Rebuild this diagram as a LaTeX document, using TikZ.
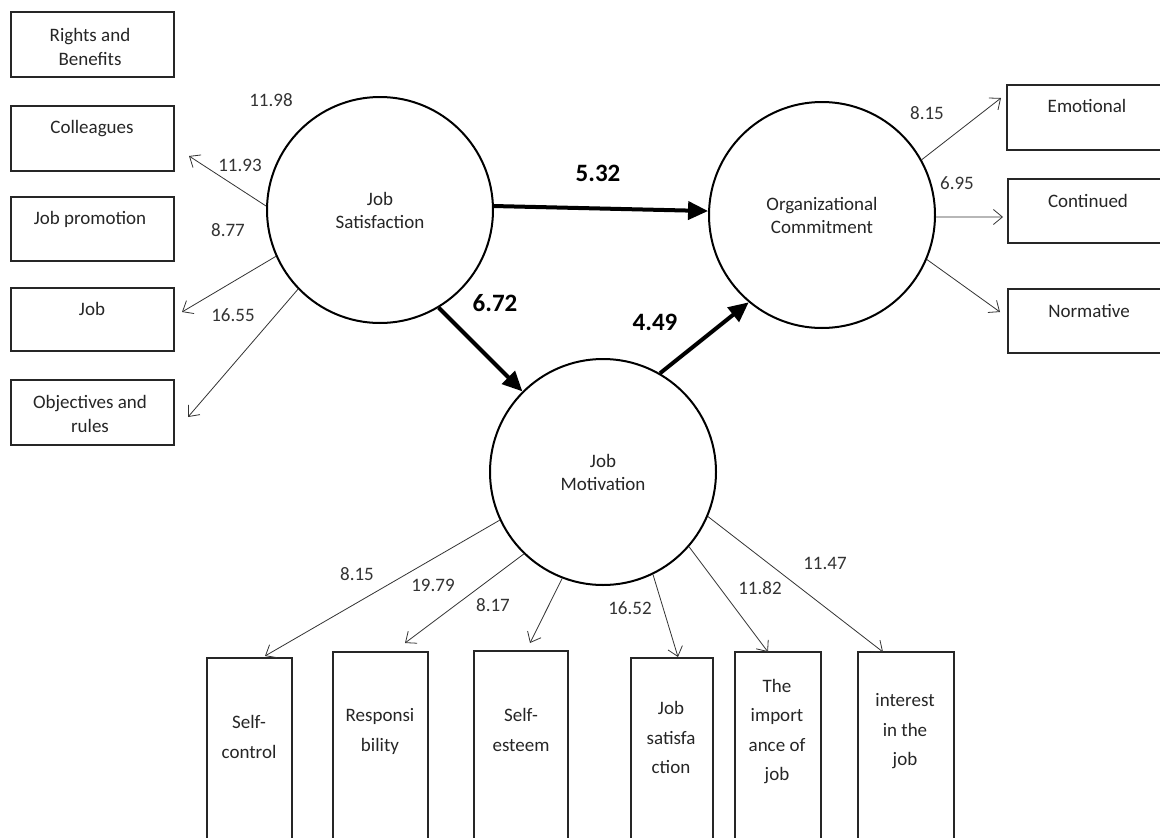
\documentclass[tikz,border=0pt]{standalone}
\usepackage{fontspec}
\setmainfont{Carlito}
\usetikzlibrary{arrows.meta}
\begin{document}
\begin{tikzpicture}[x=1pt,y=-1pt]
\tikzset{
 box/.style={draw=black!85, line width=1.1pt, rectangle, inner sep=0pt, outer sep=0pt},
 lat/.style={draw=black, line width=2pt, circle, minimum size=226pt, inner sep=0pt,
   font=\fontsize{19}{23}\selectfont, text=black!85, align=center},
 txt/.style={font=\fontsize{19}{24}\selectfont, text=black!85, align=center, inner sep=0pt},
 btxt/.style={font=\fontsize{19}{29.5}\selectfont, text=black!85, align=center, inner sep=0pt},
 num/.style={font=\fontsize{19}{24}\selectfont, text=black!80, inner sep=0pt},
 bnum/.style={font=\fontsize{25}{30}\selectfont\bfseries, text=black, inner sep=0pt},
 thinarr/.style={draw=black!80, line width=0.8pt, -{Straight Barb[length=9pt,width=15pt]}},
 boldarr/.style={draw=black, line width=4pt, -{Triangle[length=20pt,width=18pt]}},
}
\useasboundingbox (0,0) rectangle (1160,838);
\fill[white] (0,0) rectangle (1160,838);

% latent variables
\node[lat] (js) at (380,210) {Job\\Satisfaction};
\node[lat] (oc) at (822,215) {Organizational\\Commitment};
\node[lat] (jm) at (603,472) {Job\\Motivation};

% left boxes
\node[box, minimum width=163pt, minimum height=65pt] (rb) at (92.5,44.5) {};
\node[txt] (rbT) at (90,46.5) {Rights and\\Benefits};
\node[box, minimum width=163pt, minimum height=65pt] (col) at (92.5,138.5) {};
\node[txt] (colT) at (92,129) {Colleagues};
\node[box, minimum width=163pt, minimum height=64pt] (jp) at (92.5,229) {};
\node[txt] (jpT) at (90,219) {Job promotion};
\node[box, minimum width=163pt, minimum height=63pt] (job) at (92.5,319.5) {};
\node[txt] (jobT) at (92,309) {Job};
\node[box, minimum width=163pt, minimum height=65pt] (obj) at (92.5,412.5) {};
\node[txt] (objT) at (90,413.5) {Objectives and\\rules};

% right boxes
\node[box, minimum width=161pt, minimum height=65pt] (emo) at (1087.5,117.5) {};
\node[txt] (emoT) at (1087,106) {Emotional};
\node[box, minimum width=161pt, minimum height=64pt] (con) at (1088.5,211) {};
\node[txt] (conT) at (1088,201) {Continued};
\node[box, minimum width=161pt, minimum height=64pt] (nor) at (1088.5,321) {};
\node[txt] (norT) at (1089,311) {Normative};

% bottom boxes
\node[box, minimum width=85pt, minimum height=192pt] (sc) at (249.5,754) {};
\node[btxt] (scT) at (249,737) {Self-\\control};
\node[box, minimum width=95pt, minimum height=198pt] (rs) at (380.5,751) {};
\node[btxt] (rsT) at (380,731.5) {Responsi\\bility};
\node[box, minimum width=94pt, minimum height=199pt] (se) at (521,750.5) {};
\node[btxt] (seT) at (521,730) {Self-\\esteem};
\node[box, minimum width=82pt, minimum height=192pt] (jsat) at (672,754) {};
\node[btxt] (jsatT) at (671,737.5) {Job\\satisfa\\ction};
\node[box, minimum width=86pt, minimum height=198pt] (imp) at (778,751) {};
\node[btxt] (impT) at (777,731.5) {The\\import\\ance of\\job};
\node[box, minimum width=96pt, minimum height=198pt] (int) at (906,751) {};
\node[btxt] (intT) at (905,731.5) {interest\\in the\\job};

% arrow tips
\coordinate (tcol) at (189,156);
\coordinate (tjob) at (182,312);
\coordinate (tobj) at (188,417);
\coordinate (temo) at (1001,98);
\coordinate (tcon) at (1003,217);
\coordinate (tnor) at (1000,312);
\coordinate (tsc) at (265,656);
\coordinate (trs) at (405,643);
\coordinate (tse) at (530,643);
\coordinate (tjsat) at (678,657);
\coordinate (timp) at (768,652);
\coordinate (tint) at (883,652);

% thin arrows
\draw[thinarr] (js.178) -- (tcol);
\draw[thinarr] (js.204) -- (tjob);
\draw[thinarr] (js.224) -- (tobj);
\draw[thinarr] (oc.29) -- (temo);
\draw[thinarr] (oc.359) -- (tcon);
\draw[thinarr] (oc.337.5) -- (tnor);
\draw[thinarr] (jm.205) -- (tsc);
\draw[thinarr] (jm.226) -- (trs);
\draw[thinarr] (jm.249) -- (tse);
\draw[thinarr] (jm.296.5) -- (tjsat);
\draw[thinarr] (jm.319) -- (timp);
\draw[thinarr] (jm.337) -- (tint);

% bold arrows
\draw[boldarr] (js.2.5) -- (oc.178);
\draw[boldarr] (js.301) -- (jm.135);
\draw[boldarr] (jm.60) -- (oc.230);

% numbers
\node[num] (n1) at (271,100) {11.98};
\node[num] (n2) at (240,165) {11.93};
\node[num] (n3) at (228,230) {8.77};
\node[num] (n4) at (233,315) {16.55};
\node[num] (n5) at (927,113) {8.15};
\node[num] (n6) at (957,183) {6.95};
\node[num] (n7) at (357,574) {8.15};
\node[num] (n8) at (433,585) {19.79};
\node[num] (n9) at (493,605) {8.17};
\node[num] (n10) at (630,608) {16.52};
\node[num] (n11) at (760,588) {11.82};
\node[num] (n12) at (825,563) {11.47};
\node[bnum] (b1) at (598,173) {5.32};
\node[bnum] (b2) at (495,303) {6.72};
\node[bnum] (b3) at (655,322) {4.49};
\end{tikzpicture}
\end{document}
